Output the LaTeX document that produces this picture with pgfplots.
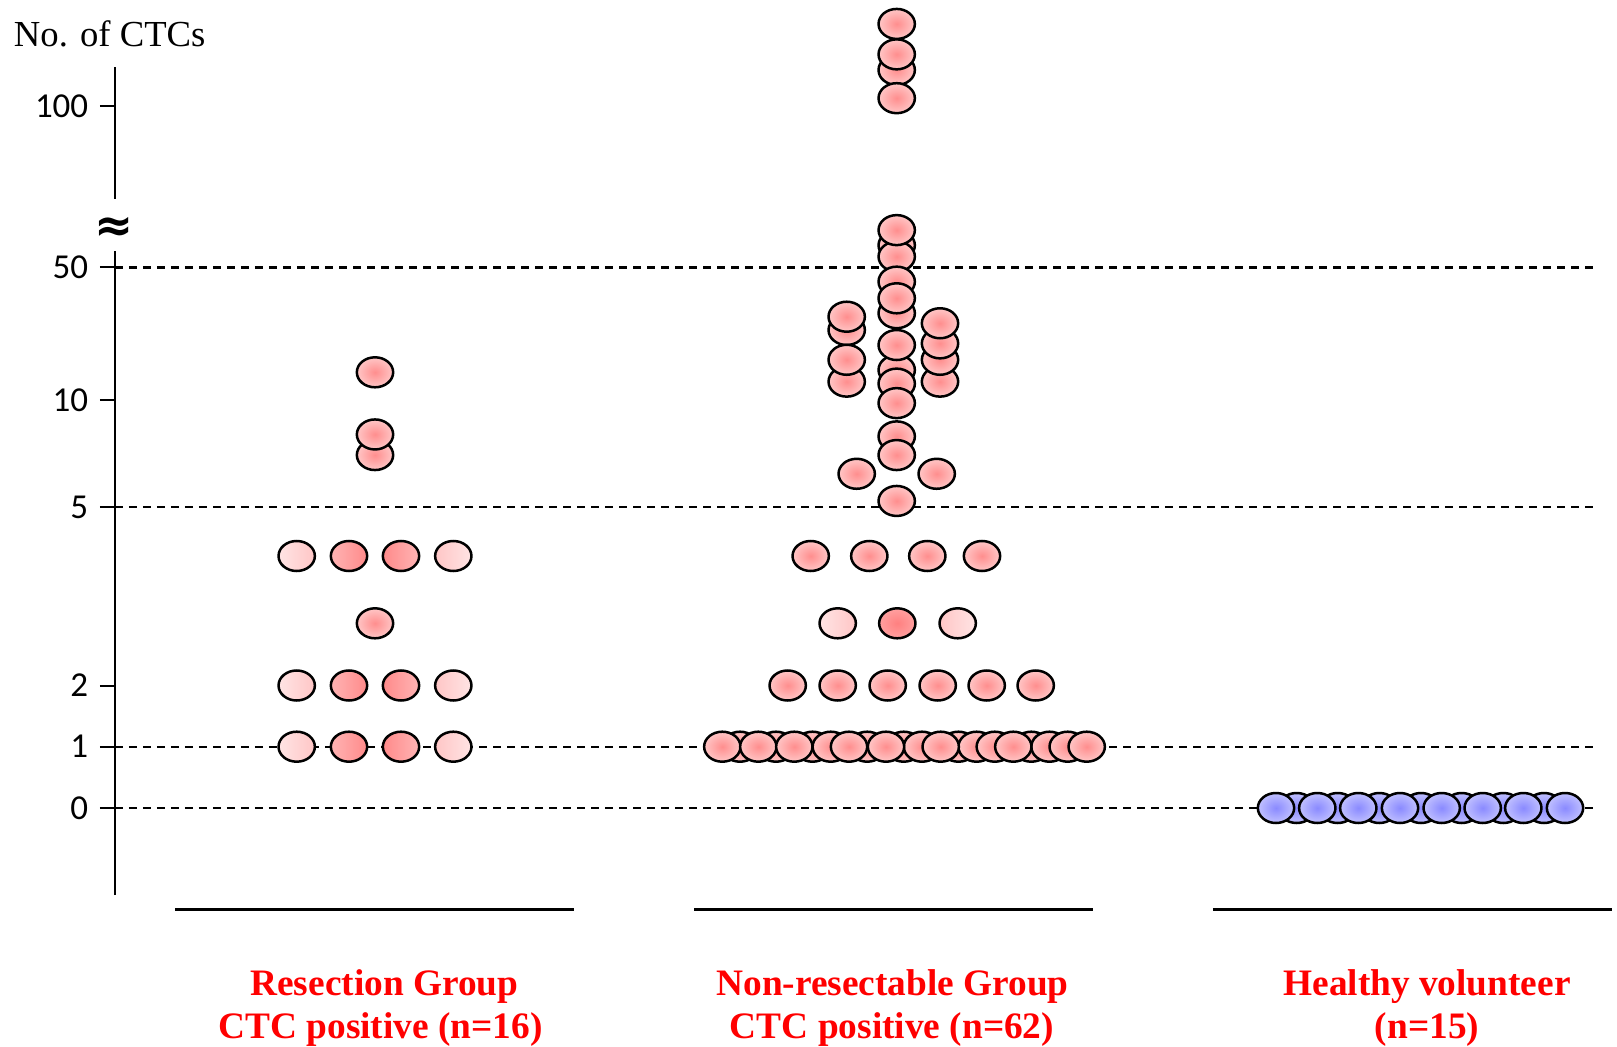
\documentclass[border=0pt]{standalone}
\usepackage{pgfplots}
\pgfplotsset{compat=1.18}
\usepackage{fontspec}
\setmainfont{Liberation Serif}
\newfontfamily\carlito{Carlito}
\newfontfamily\dejavu{DejaVu Sans}

\definecolor{prC}{RGB}{255,142,142}
\definecolor{prO}{RGB}{255,198,198}
\definecolor{plA}{RGB}{255,228,228}
\definecolor{plB}{RGB}{255,198,198}
\definecolor{pdA}{RGB}{255,180,180}
\definecolor{pdB}{RGB}{255,138,138}
\definecolor{pmC}{RGB}{255,128,128}
\definecolor{pmO}{RGB}{255,160,160}
\definecolor{bC}{RGB}{138,138,255}
\definecolor{bO}{RGB}{192,192,255}
\definecolor{labred}{RGB}{255,0,0}

\pgfdeclareradialshading{shpr}{\pgfpoint{0bp}{0bp}}{color(0bp)=(prC); color(25bp)=(prO); color(50bp)=(prO)}
\pgfdeclareradialshading{shpm}{\pgfpoint{0bp}{0bp}}{color(0bp)=(pmC); color(25bp)=(pmO); color(50bp)=(pmO)}
\pgfdeclareradialshading{shbr}{\pgfpoint{0bp}{0bp}}{color(0bp)=(bC); color(25bp)=(bO); color(50bp)=(bO)}
\pgfdeclarehorizontalshading{shpl}{100bp}{color(0bp)=(plA); color(25bp)=(plA); color(75bp)=(plB); color(100bp)=(plB)}
\pgfdeclarehorizontalshading{shplr}{100bp}{color(0bp)=(plB); color(25bp)=(plB); color(75bp)=(plA); color(100bp)=(plA)}
\pgfdeclarehorizontalshading{shpd}{100bp}{color(0bp)=(pdA); color(25bp)=(pdA); color(75bp)=(pdB); color(100bp)=(pdB)}
\pgfdeclarehorizontalshading{shpdr}{100bp}{color(0bp)=(pdB); color(25bp)=(pdB); color(75bp)=(pdA); color(100bp)=(pdA)}

\newcommand\ellpath{\pgfpathellipse{\pgfpointorigin}{\pgfqpoint{5.45pt}{0pt}}{\pgfqpoint{0pt}{4.5pt}}}
\pgfdeclareplotmark{pr}{\ellpath\pgfshadepath{shpr}{0}\ellpath\pgfusepathqstroke}
\pgfdeclareplotmark{pm}{\ellpath\pgfshadepath{shpm}{0}\ellpath\pgfusepathqstroke}
\pgfdeclareplotmark{br}{\ellpath\pgfshadepath{shbr}{0}\ellpath\pgfusepathqstroke}
\pgfdeclareplotmark{pl}{\ellpath\pgfshadepath{shpl}{0}\ellpath\pgfusepathqstroke}
\pgfdeclareplotmark{plr}{\ellpath\pgfshadepath{shplr}{0}\ellpath\pgfusepathqstroke}
\pgfdeclareplotmark{pd}{\ellpath\pgfshadepath{shpd}{0}\ellpath\pgfusepathqstroke}
\pgfdeclareplotmark{pdr}{\ellpath\pgfshadepath{shpdr}{0}\ellpath\pgfusepathqstroke}

% broken, piecewise y scale: value -> height
\pgfplotsset{brokenscale/.style={
  y coord trafo/.code={%
    \begingroup
    \pgfmathfloatparsenumber{##1}%
    \pgfmathfloattofixed{\pgfmathresult}%
    \let\vv\pgfmathresult
    \pgfkeys{/pgf/fpu=false}%
    \ifdim\vv pt<1pt \pgfmathparse{238+61.3*\vv}\else
    \ifdim\vv pt<2pt \pgfmathparse{299.3+61.2*(\vv-1)}\else
    \ifdim\vv pt<3pt \pgfmathparse{360.5+62.2*(\vv-2)}\else
    \ifdim\vv pt<4pt \pgfmathparse{422.7+67.3*(\vv-3)}\else
    \ifdim\vv pt<5pt \pgfmathparse{490+49*(\vv-4)}\else
    \ifdim\vv pt<10pt \pgfmathparse{539+107*ln(\vv/5)/ln(2)}\else
    \ifdim\vv pt<50pt \pgfmathparse{646+132.5*ln(\vv/10)/ln(5)}\else
    \pgfmathparse{778.5+161.5*ln(\vv/50)/ln(2)}\fi\fi\fi\fi\fi\fi\fi
    \xdef\brokenres{\pgfmathresult}%
    \endgroup
    \let\pgfmathresult\brokenres
  }},
  dot/.style={black, only marks, mark options={line width=0.75pt}},
  gridl/.style={black, no markers, line width=0.65pt, dash pattern=on 2.5pt off 1.7pt, forget plot}}

\begin{document}
\begin{tikzpicture}
\begin{axis}[
  brokenscale,
  x=0.3pt, y=0.3pt,
  xmin=115, xmax=1617,
  ymin=-1.42, ymax=118.4,
  axis x line=none, axis y line*=left,
  axis line style={line width=0.6pt},
  ytick={0,1,2,5,10,50,100}, yticklabels={0,1,2,5,10,50,100},
  tick align=outside, major tick length=4.5pt,
  tick style={black, line width=0.6pt},
  yticklabel style={font=\carlito\fontsize{10.5}{12}\selectfont},
  clip=false,
]
% dashed reference lines
\addplot[gridl] coordinates {(115,0) (1593,0)};
\addplot[gridl] coordinates {(115,1) (1593,1)};
\addplot[gridl] coordinates {(115,5) (1593,5)};
\addplot[gridl] coordinates {(115,50) (1593,50)};

% Resection group (n=16)
\addplot[dot, mark=pl]  coordinates {(296.7,1) (296.7,2) (296.7,4)};
\addplot[dot, mark=pd]  coordinates {(349,1) (349,2) (349,4)};
\addplot[dot, mark=pdr] coordinates {(401,1) (401,2) (401,4)};
\addplot[dot, mark=plr] coordinates {(453.3,1) (453.3,2) (453.3,4)};
\addplot[dot, mark=pr]  coordinates {(375,3) (375,7) (375,8) (375,14)};

% Non-resectable group (n=62)
\addplot[dot, mark=pr] coordinates {(740,1) (776,1) (812.5,1) (830.8,1) (867.2,1) (903.7,1) (922,1) (958.4,1) (976.6,1) (994.8,1) (1031.3,1) (1049.5,1) (1067.7,1)};
\addplot[dot, mark=pr] coordinates {(722.3,1) (758.3,1) (794.3,1) (849,1) (886,1) (940.7,1) (1013.3,1) (1086.7,1)};
\addplot[dot, mark=pr] coordinates {(787.7,2) (837.7,2) (887.7,2) (937.7,2) (986.7,2) (1035.7,2)};
\addplot[dot, mark=pl]  coordinates {(837.7,3)};
\addplot[dot, mark=pm]  coordinates {(897.3,3)};
\addplot[dot, mark=plr] coordinates {(957.7,3)};
\addplot[dot, mark=pr] coordinates {(810.7,4) (869.3,4) (927.3,4) (982,4)};
\addplot[dot, mark=pr] coordinates {(856.7,6.2) (936.7,6.2)};
\addplot[dot, mark=pr] coordinates {(896.7,55) (896.7,52.4) (896.7,42.1) (896.7,28.7) (896.7,14.4) (896.7,7.9)};
\addplot[dot, mark=pr] coordinates {(896.7,58.7) (896.7,34.4) (896.7,19.5) (896.7,12.2) (896.7,9.8) (896.7,7) (896.7,5.2)};
\addplot[dot, mark=pr] coordinates {(846.7,23.4) (846.7,12.5) (846.7,27.5) (846.7,16.3)};
\addplot[dot, mark=pr] coordinates {(940,12.5) (940,16.3) (940,19.9) (940,25.4)};
\addplot[dot, mark=pr] coordinates {(896.7,116.7) (896.7,124.8) (896.7,103.4) (896.7,142.2)};

% Healthy volunteer (n=15)
\addplot[dot, mark=br] coordinates {(1296.7,0) (1337.7,0) (1379.3,0) (1421,0) (1461.7,0) (1503.3,0) (1544,0)};
\addplot[dot, mark=br] coordinates {(1276,0) (1317.3,0) (1358.3,0) (1400,0) (1441.7,0) (1482.7,0) (1523.3,0) (1565,0)};
\end{axis}

\begin{scope}[x=0.3pt, y=0.3pt, shift={(-34.5pt,-45.285pt)}]
  % axis break
  \fill[white] (106,795) rectangle (124,847);
  \node[font=\dejavu\bfseries\fontsize{14}{14}\selectfont, inner sep=0pt] at (114,817) {≈};
  % y title
  \node[anchor=base west, inner sep=0pt, font=\fontsize{11}{13}\selectfont] at (13.3,999.3) {No. of CTCs};
  % group underlines
  \draw[line width=0.7pt] (175.3,136.5) -- (574.4,136.5);
  \draw[line width=0.7pt] (694,136.5) -- (1093,136.5);
  \draw[line width=0.7pt] (1212.8,136.5) -- (1612,136.5);
  % group labels
  \begin{scope}[every node/.style={anchor=base, inner sep=0pt, text=labred, font=\bfseries\fontsize{11.2}{13}\selectfont}]
    \node at (384.4,51) {Resection Group};
    \node at (380.5,8) {CTC positive (n=16)};
    \node at (892.5,51) {Non-resectable Group};
    \node at (892,8) {CTC positive (n=62)};
    \node at (1427,51) {Healthy volunteer};
    \node at (1427,8) {(n=15)};
  \end{scope}
\end{scope}
\pgfresetboundingbox
\useasboundingbox (-34.5pt,-45.285pt) rectangle ++(485.1pt,313.8pt);
\end{tikzpicture}
\end{document}
